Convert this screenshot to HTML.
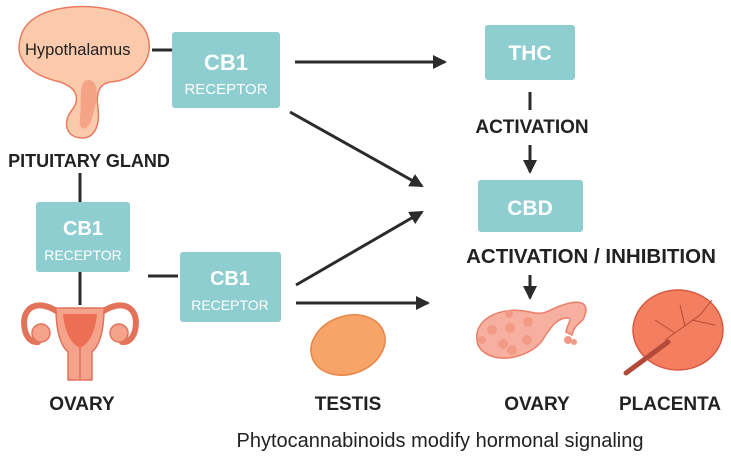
<!DOCTYPE html>
<html><head><meta charset="utf-8"><style>body{margin:0;background:#fff}svg{display:block}text{font-family:"Liberation Sans","DejaVu Sans",sans-serif}</style></head><body>
<svg width="731" height="460" viewBox="0 0 731 460" xmlns="http://www.w3.org/2000/svg">
<defs>
<marker id="b" markerWidth="14" markerHeight="14" refX="12" refY="7" orient="auto" markerUnits="userSpaceOnUse" viewBox="0 0 14 14"><path d="M0,0 L14,7 L0,14 z" fill="#2b2b2b"/></marker></defs>
<path d="M40,15 C70,0 130,5 145,30 C158,55 140,80 110,82 C98,84 96,95 98,108 C100,125 95,138 82,138 C66,138 62,122 72,110 C80,100 78,88 60,82 C30,75 15,60 20,40 C22,28 30,20 40,15 Z" fill="#fbc9ab" stroke="#ea7a60" stroke-width="1.5"/>
<path d="M88,80 C100,80 98,100 92,118 C88,132 78,132 80,118 C82,100 78,80 88,80 Z" fill="#f5a387"/>
<text x="25" y="55" font-size="16.5" fill="#222">Hypothalamus</text>
<line x1="152" y1="50" x2="172" y2="50" stroke="#2b2b2b" stroke-width="3"/>
<g fill="#8ecdd0"><rect x="172" y="32" width="108" height="76" rx="3"/><rect x="485" y="25" width="90" height="55" rx="3"/><rect x="478" y="180" width="105" height="52" rx="3"/><rect x="36" y="202" width="94" height="70" rx="3"/><rect x="180" y="252" width="101" height="70" rx="3"/></g>
<g fill="#fff" text-anchor="middle"><text x="226" y="70" font-size="22" font-weight="bold">CB1</text><text x="226" y="94" font-size="15">RECEPTOR</text>
<text x="530" y="60" font-size="21" font-weight="bold">THC</text><text x="530" y="215" font-size="21" font-weight="bold">CBD</text>
<text x="83" y="235" font-size="20" font-weight="bold">CB1</text><text x="83" y="260" font-size="14">RECEPTOR</text>
<text x="230" y="285" font-size="20" font-weight="bold">CB1</text><text x="230" y="310" font-size="14">RECEPTOR</text></g>
<g stroke="#2b2b2b" stroke-width="3" fill="none">
<line x1="295" y1="62" x2="445" y2="62" marker-end="url(#b)"/>
<line x1="290" y1="112" x2="422" y2="186" marker-end="url(#b)"/>
<line x1="296" y1="285" x2="422" y2="212" marker-end="url(#b)"/>
<line x1="296" y1="303" x2="428" y2="303" marker-end="url(#b)"/>
<line x1="530" y1="92" x2="530" y2="110"/>
<line x1="530" y1="145" x2="530" y2="172" marker-end="url(#b)"/>
<line x1="530" y1="275" x2="530" y2="298" marker-end="url(#b)"/>
<line x1="80" y1="173" x2="80" y2="202"/><line x1="80" y1="272" x2="80" y2="305"/>
<line x1="148" y1="276" x2="178" y2="276"/></g>
<g fill="#222" font-weight="bold" text-anchor="middle">
<text x="89" y="167" font-size="18">PITUITARY GLAND</text>
<text x="532" y="133" font-size="19">ACTIVATION</text>
<text x="591" y="263" font-size="20.5">ACTIVATION / INHIBITION</text>
<text x="82" y="410" font-size="19">OVARY</text><text x="348" y="410" font-size="19">TESTIS</text>
<text x="537" y="410" font-size="19">OVARY</text><text x="670" y="410" font-size="19">PLACENTA</text></g>
<text x="440" y="447" font-size="20" fill="#222" text-anchor="middle">Phytocannabinoids modify hormonal signaling</text>
<g stroke="#e2735a" stroke-width="1.5">
<path d="M58,312 C40,300 25,305 24,322 C24,335 30,343 38,342 M102,312 C120,300 135,305 136,322 C136,335 130,343 122,342" fill="none" stroke-width="6" stroke-linecap="round"/>
<circle cx="41" cy="333" r="9" fill="#f5a38a"/><circle cx="119" cy="333" r="9" fill="#f5a38a"/>
<path d="M56,308 L104,308 C104,330 100,345 92,352 L92,380 L68,380 L68,352 C60,345 56,330 56,308 Z" fill="#f5a38a"/>
<path d="M63,314 L97,314 C95,332 90,343 80,348 C70,343 65,332 63,314 Z" fill="#ec6f55" stroke="none"/>
<line x1="80" y1="348" x2="80" y2="380"/></g>
<ellipse cx="348" cy="345" rx="38" ry="29" transform="rotate(-20 348 345)" fill="#f7a468" stroke="#e98547" stroke-width="1.5"/>
<path d="M478,345 C470,320 500,305 530,312 C545,316 548,310 560,306 C575,300 590,300 585,315 C582,325 575,322 572,335 L566,332 C568,320 575,318 565,318 C556,320 552,326 545,336 C535,358 490,368 478,345 Z" fill="#f7b0a0" stroke="#ec7e68" stroke-width="1.5"/>
<g fill="#f29a85"><circle cx="492" cy="330" r="5"/><circle cx="509" cy="314" r="4"/><circle cx="510" cy="328" r="5"/><circle cx="528" cy="322" r="5"/><circle cx="503" cy="344" r="5"/><circle cx="527" cy="340" r="5"/><circle cx="512" cy="350" r="5"/><circle cx="482" cy="340" r="4"/><circle cx="568" cy="340" r="4"/><circle cx="574" cy="342" r="3"/></g>
<ellipse cx="678" cy="330" rx="45" ry="40" fill="#f47f60" stroke="#d9593f" stroke-width="1.5"/>
<g stroke="#b84a35" stroke-width="1" fill="none"><path d="M665,340 L700,315 L712,300 M685,326 L680,305 M692,320 L715,325 M675,333 L655,320"/></g>
<line x1="626" y1="373" x2="668" y2="342" stroke="#b24a3a" stroke-width="5" stroke-linecap="round"/>
</svg></body></html>
